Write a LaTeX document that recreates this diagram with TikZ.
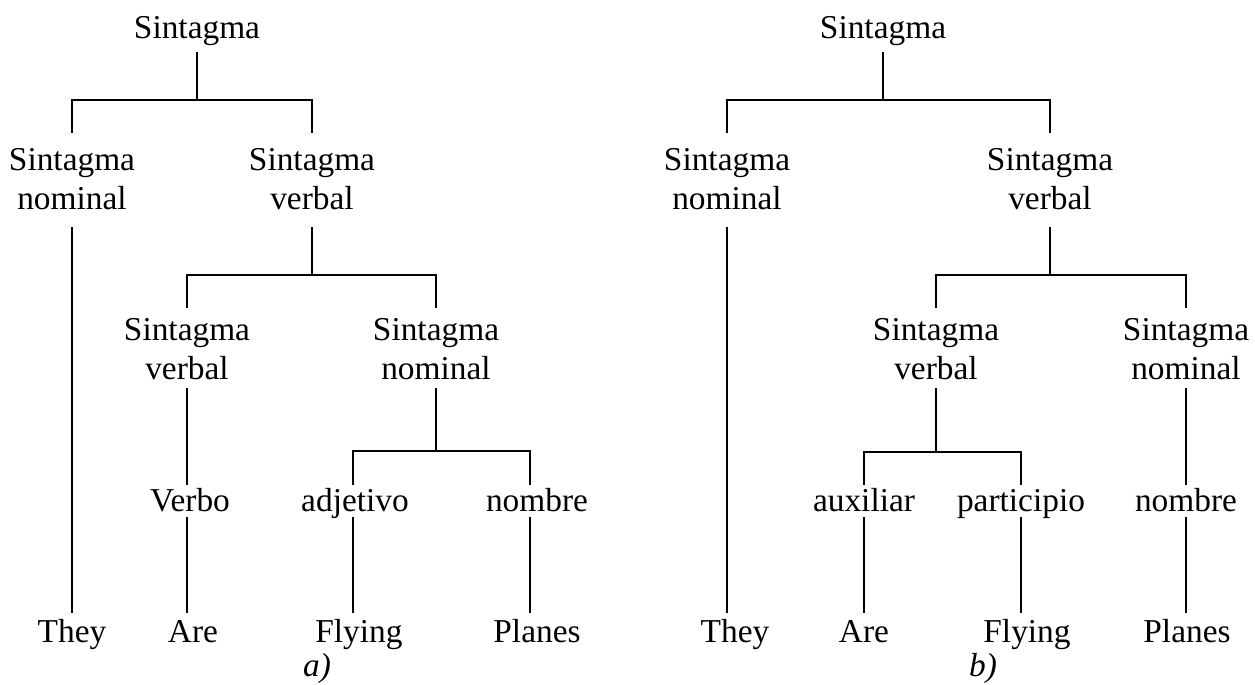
\documentclass[tikz,border=0pt]{standalone}
\usepackage{fontspec}
\setmainfont{Liberation Serif}
\usetikzlibrary{calc}
\begin{document}
\begin{tikzpicture}[x=0.02cm,y=-0.02cm,
  lbl/.style={inner sep=0pt,anchor=base,align=center,
    font=\fontsize{19}{22.2}\selectfont},
  capt/.style={inner sep=0pt,anchor=base,
    font=\fontsize{19}{22.2}\selectfont\itshape},
  edge/.style={line width=1.1pt}]
\useasboundingbox (0,0) rectangle (1255,685);

% two-line labels are placed by the baseline of their last line

% ---------- tree a) ----------
\node[lbl] (aS)   at (197,39)  {Sintagma};
\node[lbl] (aSN)  at (72,210)  {Sintagma\\nominal};
\node[lbl] (aSV)  at (312,210) {Sintagma\\verbal};
\node[lbl] (aSV2) at (187,380) {Sintagma\\verbal};
\node[lbl] (aSN2) at (436,380) {Sintagma\\nominal};
\node[lbl] (aV)   at (190,512) {Verbo};
\node[lbl] (aAdj) at (355,512) {adjetivo};
\node[lbl] (aN)   at (537,512) {nombre};
\node[lbl] (aW1)  at (72,643)  {They};
\node[lbl] (aW2)  at (193,643) {Are};
\node[lbl] (aW3)  at (359,643) {Flying};
\node[lbl] (aW4)  at (537,643) {Planes};
\node[capt] (aCap) at (317,677) {a)};

\draw[edge] ($(aS.base)+(0,13)$) -- ($(aS.base)+(0,61)$);
\draw[edge] ($(aSN.base)+(0,-77)$) |- ($(aS.base)+(0,61)$) -| ($(aSV.base)+(0,-77)$);
\draw[edge] ($(aSN.base)+(0,17)$) -- ($(aSN.base |- aW1.base)+(0,-30)$);
\draw[edge] ($(aSV.base)+(0,17)$) -- ($(aSV.base)+(0,65)$);
\draw[edge] ($(aSV2.base)+(0,-72)$) |- ($(aSV.base)+(0,65)$) -| ($(aSN2.base)+(0,-72)$);
\draw[edge] ($(aSV2.base)+(0,8)$) -- ($(aSV2.base |- aV.base)+(0,-27)$);
\draw[edge] ($(aSV2.base |- aV.base)+(0,5)$) -- ($(aSV2.base |- aW2.base)+(0,-30)$);
\draw[edge] ($(aSN2.base)+(0,8)$) -- ($(aSN2.base)+(0,71)$);
\draw[edge] ($(aAdj.base)+(-2,-27)$) |- ($(aSN2.base)+(0,71)$) -| ($(aN.base)+(-7,-27)$);
\draw[edge] ($(aAdj.base)+(-2,5)$) -- ($(aAdj.base |- aW3.base)+(-2,-30)$);
\draw[edge] ($(aN.base)+(-7,5)$) -- ($(aN.base |- aW4.base)+(-7,-30)$);

% ---------- tree b) ----------
\node[lbl] (bS)   at (883,39)   {Sintagma};
\node[lbl] (bSN)  at (727,210)  {Sintagma\\nominal};
\node[lbl] (bSV)  at (1050,210) {Sintagma\\verbal};
\node[lbl] (bSV2) at (936,380)  {Sintagma\\verbal};
\node[lbl] (bSN2) at (1186,380) {Sintagma\\nominal};
\node[lbl] (bAux) at (864,512)  {auxiliar};
\node[lbl] (bPar) at (1021,512) {participio};
\node[lbl] (bN)   at (1186,512) {nombre};
\node[lbl] (bW1)  at (735,643)  {They};
\node[lbl] (bW2)  at (864,643)  {Are};
\node[lbl] (bW3)  at (1027,643) {Flying};
\node[lbl] (bW4)  at (1187,643) {Planes};
\node[capt] (bCap) at (983,677)  {b)};

\draw[edge] ($(bS.base)+(0,13)$) -- ($(bS.base)+(0,61)$);
\draw[edge] ($(bSN.base)+(0,-77)$) |- ($(bS.base)+(0,61)$) -| ($(bSV.base)+(0,-77)$);
\draw[edge] ($(bSN.base)+(0,17)$) -- ($(bSN.base |- bW1.base)+(0,-30)$);
\draw[edge] ($(bSV.base)+(0,17)$) -- ($(bSV.base)+(0,65)$);
\draw[edge] ($(bSV2.base)+(0,-72)$) |- ($(bSV.base)+(0,65)$) -| ($(bSN2.base)+(0,-72)$);
\draw[edge] ($(bSV2.base)+(0,8)$) -- ($(bSV2.base)+(0,72)$);
\draw[edge] ($(bAux.base)+(0,-27)$) |- ($(bSV2.base)+(0,72)$) -| ($(bPar.base)+(0,-27)$);
\draw[edge] ($(bSN2.base)+(0,8)$) -- ($(bSN2.base |- bN.base)+(0,-27)$);
\draw[edge] ($(bAux.base)+(0,5)$) -- ($(bAux.base |- bW2.base)+(0,-30)$);
\draw[edge] ($(bPar.base)+(0,5)$) -- ($(bPar.base |- bW3.base)+(0,-30)$);
\draw[edge] ($(bN.base)+(0,5)$) -- ($(bN.base |- bW4.base)+(0,-30)$);
\end{tikzpicture}
\end{document}
